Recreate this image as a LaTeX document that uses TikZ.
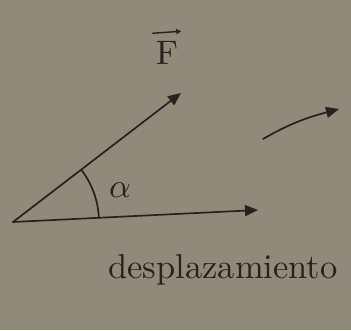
\documentclass[tikz,border=0pt]{standalone}
\usetikzlibrary{arrows.meta,calc}
\definecolor{paper}{RGB}{143,138,122}
\definecolor{ink}{RGB}{38,34,30}
\begin{document}
\begin{tikzpicture}[x=1pt,y=1pt,
  pen/.style={draw=ink,line width=1.7pt,line cap=round},
  vec/.style={pen,-{Triangle[length=13pt,width=11pt]}},
  lbl/.style={text=ink,inner sep=0pt}]
\fill[paper] (0,0) rectangle (351,330);
\useasboundingbox (0,0) rectangle (351,330);
\coordinate (O) at (13,108);
\coordinate (Ftip) at (181,237);
\coordinate (Dtip) at (258,120);
\coordinate (Cs) at (263,191);
\coordinate (Ce) at (339,221);
\draw[vec] (O) -- (Ftip);
\draw[vec] (O) -- (Dtip);
\draw[pen] ($(O)+(2.8:86)$) arc[start angle=2.8,end angle=37.4,radius=86];
\draw[vec] (Cs) to[out=30,in=195] (Ce);
\node[lbl] (F) at (167,277) {\scalebox{3.4}{F}};
\coordinate (Va) at ($(F.north west)+(-3,8)$);
\coordinate (Vb) at ($(F.north east)+(3,10)$);
\draw[pen,line width=1.4pt,-{Triangle[length=5pt,width=5pt]}] (Va) -- (Vb);
\node[lbl] (a) at (120,140) {\scalebox{3.4}{$\alpha$}};
\node[lbl] (d) at (223,60) {\scalebox{3.45}{desplazamiento}};
\end{tikzpicture}
\end{document}
